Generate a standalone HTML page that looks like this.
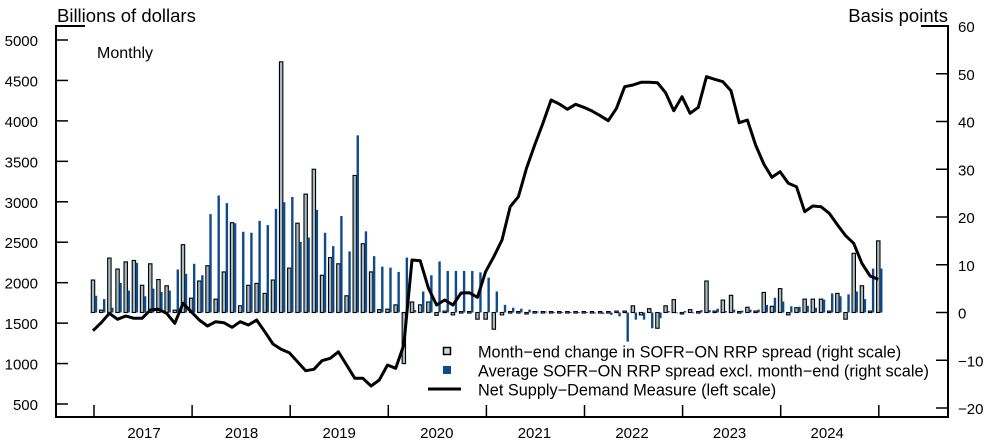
<!DOCTYPE html>
<html><head><meta charset="utf-8"><style>
html,body{margin:0;padding:0;background:#fff;}
svg{display:block;font-family:"Liberation Sans",Arial,sans-serif;}
</style></head><body>
<svg id="chart" width="1000" height="443" viewBox="0 0 1000 443">
<g id="axes"></g>
<g id="bars"></g>
<g id="line"></g>
<text x="57" y="22" font-size="18.5">Billions of dollars</text>
<text x="948" y="22" font-size="18.5" text-anchor="end">Basis points</text>
<text x="97" y="58" font-size="16">Monthly</text>
<g>
<rect x="443.5" y="347.5" width="7" height="7" fill="#c3dde6" stroke="#000" stroke-width="1.5"/>
<text x="478" y="357.5" font-size="16.3">Month−end change in SOFR−ON RRP spread (right scale)</text>
<rect x="443" y="366" width="8" height="8" fill="#0e4a8e"/>
<text x="478" y="376.5" font-size="16.3">Average SOFR−ON RRP spread excl. month−end (right scale)</text>
<line x1="428" y1="389" x2="461" y2="389" stroke="#000" stroke-width="3"/>
<text x="478" y="395.5" font-size="16.3">Net Supply−Demand Measure (left scale)</text>
</g>
</svg>
<script>
const years = ["2017","2018","2019","2020","2021","2022","2023","2024"];
const leftTicks = [500,1000,1500,2000,2500,3000,3500,4000,4500,5000];
const rightTicks = [-20,-10,0,10,20,30,40,50,60];
const monthEnd = [6.8,0.5,11.4,9.1,10.6,10.9,5.7,10.2,6.9,5.6,0.5,14.2,3.0,6.6,9.8,2.8,8.5,18.8,1.4,5.7,6.1,4.0,6.8,52.5,9.3,18.7,24.8,30.0,7.8,11.5,10.2,3.5,28.7,14.4,8.5,0.6,0.7,1.6,-10.7,2.2,1.6,2.2,-0.6,0.3,-0.5,0.2,0.2,-1.4,-1.4,-3.5,-0.5,0.2,0.2,-0.3,0.2,0.2,0.2,0.2,0.2,0.2,0.2,0.2,0.2,0.2,0.3,0.3,1.4,-0.5,0.8,-3.3,1.4,2.7,-0.3,0.6,0.2,6.6,0.3,2.6,3.6,0.2,1.1,0.3,4.2,1.3,5.0,-0.5,1.0,2.8,2.8,2.8,0.3,4.0,-1.4,12.4,5.6,0.3,15.0];
const average = [3.5,2.8,1.0,6.2,4.6,10.4,3.4,5.0,4.3,4.6,9.0,8.1,10.2,7.8,20.6,24.5,22.9,18.7,16.9,16.7,19.2,18.3,21.7,23.1,24.2,14.8,15.7,21.5,16.7,13.9,20.2,12.8,37.1,17.0,11.8,9.6,9.4,8.5,11.5,0.5,4.4,7.8,10.7,8.7,8.7,8.7,8.7,8.4,7.3,4.4,1.6,1.0,0.8,0.6,0.2,0.2,0.1,0.1,0.1,0.1,0.1,-0.2,-0.3,-0.5,-0.8,-6.1,-1.5,-1.5,-3.3,-1.2,0.3,0,0.3,0,0.5,0.5,0.8,0.3,0.6,0.4,0.6,0.6,1.6,3.1,2.3,1.3,1.2,1.4,1.0,2.7,4.0,3.4,3.8,4.4,2.8,9.2,9.2];
const netSupply = [1406,1505,1621,1547,1588,1559,1559,1662,1671,1621,1498,1745,1641,1538,1464,1517,1505,1448,1517,1477,1538,1394,1242,1176,1134,1023,912,929,1035,1065,1146,982,818,818,722,797,982,941,1229,2280,2271,1934,1724,1786,1724,1872,1876,1819,2135,2321,2527,2939,3063,3414,3702,3970,4258,4209,4143,4205,4168,4122,4064,4002,4156,4423,4444,4477,4477,4472,4348,4126,4299,4094,4168,4546,4514,4484,4373,3978,4011,3702,3467,3303,3372,3228,3186,2877,2948,2939,2857,2717,2581,2487,2240,2083,2042];

const NS="http://www.w3.org/2000/svg";
const XL=56, XR=948, YB=417, YT=26;
function xm(i){return 93+i*8.18;}
function yl(v){return 40+(5000-v)*0.08089;}
function yr(v){return 312.5-v*4.775;}
function mk(tag,attrs,parent){const e=document.createElementNS(NS,tag);for(const k in attrs)e.setAttribute(k,attrs[k]);parent.appendChild(e);return e;}
const axes=document.getElementById('axes'), bars=document.getElementById('bars'), line=document.getElementById('line');

let e;
e=mk('path',{d:`M85 ${YT}H${XL}V${YB}H${XR}V${YT}H921`,fill:'none',stroke:'#000','stroke-width':2},axes);


leftTicks.forEach(v=>{
  e=mk('line',{x1:XL,x2:XL+12,y1:yl(v),y2:yl(v),stroke:'#000','stroke-width':1.5},axes);
  
  
  e=mk('text',{x:38,y:yl(v)+6,'font-size':15,'text-anchor':'end'},axes);e.textContent=v;
  
  
});
rightTicks.forEach(v=>{
  e=mk('line',{x1:XR-12,x2:XR,y1:yr(v),y2:yr(v),stroke:'#000','stroke-width':1.5},axes);
  
  
  e=mk('text',{x:958,y:yr(v)+6,'font-size':15},axes);e.textContent=String(v).replace('-','\u2212');
  
  
});
for(let k=0;k<=8;k++){
  const x=94+k*98.1;
  e=mk('line',{x1:x,x2:x,y1:YB-12,y2:YB,stroke:'#000','stroke-width':1.5},axes);
  
  
}
years.forEach((y,k)=>{
  e=mk('text',{x:94+k*97.6+50,y:438,'font-size':15,'text-anchor':'middle'},axes);e.textContent=y;
  
  
});
const y0=yr(0);
monthEnd.forEach((v,i)=>{
  const x=xm(i)-1.7, y=Math.min(yr(v),y0), h=Math.max(Math.abs(yr(v)-y0),1.5);
  e=mk('rect',{x:x,y:y,width:3.4,height:h,fill:'#a7b9c1',stroke:'#000','stroke-width':1.1},bars);
  
  
});
average.forEach((v,i)=>{
  const x=xm(i)+1.8, y=Math.min(yr(v),y0), h=Math.max(Math.abs(yr(v)-y0),0.8);
  e=mk('rect',{x:x,y:y,width:2.4,height:h,fill:'#0e4a8e'},bars);
  
  
});
e=mk('polyline',{points:netSupply.map((v,i)=>xm(i).toFixed(1)+','+yl(v).toFixed(1)).join(' '),fill:'none',stroke:'#000','stroke-width':3,'stroke-linejoin':'round'},line);


</script>
</body></html>
